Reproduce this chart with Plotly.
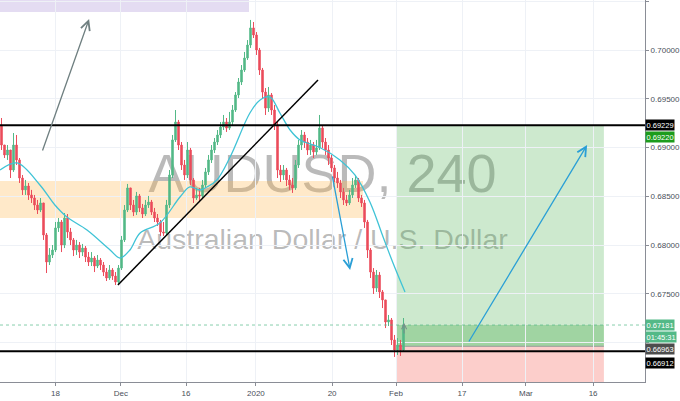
import plotly.graph_objects as go

# ---------------- data (AUDUSD, 240) ----------------
first_open = 0.69231
closes = [0.69026, 0.68924, 0.68975, 0.68770, 0.69026, 0.68873, 0.68688, 0.68566, 0.68606, 0.68514,
          0.68483, 0.68411, 0.68360, 0.68432, 0.68104, 0.67827, 0.67899, 0.67950, 0.68176, 0.68237,
          0.68001, 0.68278, 0.68135, 0.68053, 0.67950, 0.68001, 0.67929, 0.67970, 0.67878, 0.67827,
          0.67868, 0.67786, 0.67847, 0.67796, 0.67724, 0.67663, 0.67745, 0.67683, 0.67622, 0.67765,
          0.68053, 0.68360, 0.68586, 0.68411, 0.68339, 0.68504, 0.68381, 0.68319, 0.68411, 0.68442,
          0.68339, 0.68278, 0.68237, 0.68135, 0.68124, 0.68411, 0.68719, 0.69078, 0.69262, 0.69026,
          0.68821, 0.68719, 0.68975, 0.68668, 0.68483, 0.68514, 0.68504, 0.68616, 0.68750, 0.68873,
          0.68975, 0.69057, 0.69129, 0.69211, 0.69262, 0.69200, 0.69262, 0.69385, 0.69539, 0.69672,
          0.69795, 0.69918, 0.70051, 0.70226, 0.70154, 0.70000, 0.69795, 0.69569, 0.69405, 0.69539,
          0.69385, 0.69231, 0.68770, 0.68719, 0.68770, 0.68668, 0.68616, 0.68586, 0.68821, 0.69026,
          0.69129, 0.69057, 0.68975, 0.69026, 0.68955, 0.68996, 0.69200, 0.69057, 0.68975, 0.68893,
          0.68791, 0.68688, 0.68637, 0.68545, 0.68463, 0.68432, 0.68514, 0.68616, 0.68668, 0.68483,
          0.68432, 0.68237, 0.67950, 0.67724, 0.67560, 0.67693, 0.67520, 0.67438, 0.67212, 0.67233,
          0.67028, 0.66925, 0.66976, 0.66925, 0.67181]
highs = [0.69303, 0.69026, 0.69026, 0.68975, 0.69149, 0.69129, 0.68893, 0.68719, 0.68668, 0.68637,
         0.68566, 0.68514, 0.68463, 0.68483, 0.68432, 0.68124, 0.67970, 0.68001, 0.68237, 0.68278,
         0.68258, 0.68329, 0.68319, 0.68176, 0.68073, 0.68053, 0.68032, 0.68012, 0.67991, 0.67929,
         0.67929, 0.67888, 0.67899, 0.67868, 0.67827, 0.67765, 0.67796, 0.67765, 0.67724, 0.67796,
         0.68094, 0.68411, 0.68627, 0.68545, 0.68463, 0.68545, 0.68524, 0.68422, 0.68463, 0.68504,
         0.68463, 0.68381, 0.68319, 0.68258, 0.68237, 0.68463, 0.68770, 0.69129, 0.69385, 0.69283,
         0.69057, 0.68873, 0.69057, 0.68996, 0.68688, 0.68586, 0.68586, 0.68668, 0.68791, 0.68924,
         0.69026, 0.69098, 0.69180, 0.69262, 0.69334, 0.69303, 0.69365, 0.69436, 0.69569, 0.69713,
         0.69846, 0.69980, 0.70102, 0.70308, 0.70287, 0.70184, 0.70021, 0.69816, 0.69610, 0.69621,
         0.69559, 0.69436, 0.69262, 0.68821, 0.68821, 0.68791, 0.68719, 0.68688, 0.68873, 0.69078,
         0.69180, 0.69160, 0.69098, 0.69078, 0.69057, 0.69078, 0.69334, 0.69231, 0.69098, 0.69026,
         0.68924, 0.68821, 0.68750, 0.68668, 0.68586, 0.68514, 0.68566, 0.68688, 0.68719, 0.68688,
         0.68514, 0.68463, 0.68258, 0.67970, 0.67765, 0.67745, 0.67724, 0.67540, 0.67438, 0.67284,
         0.67253, 0.67079, 0.67048, 0.67028, 0.67253]
lows = [0.68975, 0.68893, 0.68873, 0.68688, 0.68750, 0.68821, 0.68637, 0.68514, 0.68514, 0.68463,
        0.68432, 0.68360, 0.68319, 0.68339, 0.68053, 0.67714, 0.67796, 0.67868, 0.67929, 0.68135,
        0.67929, 0.67970, 0.68073, 0.68001, 0.67888, 0.67899, 0.67868, 0.67888, 0.67827, 0.67786,
        0.67786, 0.67724, 0.67765, 0.67745, 0.67683, 0.67632, 0.67643, 0.67643, 0.67591, 0.67591,
        0.67745, 0.68032, 0.68339, 0.68360, 0.68298, 0.68309, 0.68339, 0.68278, 0.68298, 0.68381,
        0.68309, 0.68237, 0.68196, 0.68094, 0.68094, 0.68104, 0.68381, 0.68688, 0.69057, 0.68975,
        0.68770, 0.68668, 0.68688, 0.68616, 0.68432, 0.68463, 0.68442, 0.68483, 0.68586, 0.68719,
        0.68842, 0.68944, 0.69026, 0.69098, 0.69180, 0.69160, 0.69180, 0.69231, 0.69365, 0.69508,
        0.69641, 0.69775, 0.69898, 0.70021, 0.70123, 0.69949, 0.69744, 0.69508, 0.69334, 0.69365,
        0.69334, 0.69180, 0.68688, 0.68647, 0.68668, 0.68606, 0.68566, 0.68535, 0.68566, 0.68791,
        0.68975, 0.68996, 0.68924, 0.68924, 0.68893, 0.68924, 0.68975, 0.68996, 0.68924, 0.68821,
        0.68750, 0.68647, 0.68586, 0.68483, 0.68411, 0.68401, 0.68411, 0.68483, 0.68586, 0.68442,
        0.68391, 0.68176, 0.67868, 0.67663, 0.67499, 0.67520, 0.67458, 0.67355, 0.67150, 0.67171,
        0.66976, 0.66854, 0.66874, 0.66864, 0.66905]
opens = [first_open] + closes[:-1]
bars = list(range(len(closes)))

ma_bars = [-0.5, 5.2, 12.8, 17.8, 21.8, 28.5, 36.2, 39.5, 42.8, 46.2, 52.8, 59.5, 62.8, 66.2, 68.5,
           71.8, 76.2, 82.8, 86.2, 89.5, 92.8, 96.2, 99.5, 105.8, 112.8, 117.8, 122.8, 127.2, 130.5, 134.5]
ma_vals = [0.68770, 0.68842, 0.68616, 0.68411, 0.68288, 0.68155, 0.67950, 0.67868, 0.67950, 0.68124,
           0.68227, 0.68493, 0.68596, 0.68565, 0.68596, 0.68668, 0.68903, 0.69354, 0.69488, 0.69518,
           0.69354, 0.69180, 0.69078, 0.69006, 0.68873, 0.68719, 0.68442, 0.68083, 0.67817, 0.67520]

tick_bars = [18.0, 39.8, 61.5, 84.8, 110.2, 131.5, 153.5, 174.8, 197.2]
tick_text = ["18", "Dec", "16", "2020", "20", "Feb", "17", "Mar", "16"]
price_ticks = [0.670, 0.675, 0.680, 0.685, 0.690, 0.695, 0.700, 0.705]
# 0.67000 is covered by the price labels on the scale in the reference
price_tick_text = ["", "0.67500", "0.68000", "0.68500", "0.69000", "0.69500", "0.70000", "0.70500"]

resistance = 0.69229
support = 0.66912
take_profit = 0.69220
entry = 0.66963
last_price = 0.67181
stop_loss = 0.66400
countdown = "01:45:31"

purple_zone = [0.70389, 0.70600]
purple_bars = [-0.5, 82.5]
orange_zone = [0.68279, 0.68658]
orange_bars = [-0.5, 120.5]
position_bars = [131.8, 200.8]
trend_bars = [38.8, 105.5]
trend_prices = [0.67591, 0.69693]
gray_arrow = [(13.5, 0.68955), (29.2, 0.70318)]
down_arrow = [(110.2, 0.68719), (116.2, 0.67746)]
up_arrow = [(155.5, 0.66997), (195.2, 0.69026)]
mini_arrow = [(134.2, 0.67079), (134.2, 0.67202)]

x_range = [-0.5, 214.5]
y_range = [0.66597, 0.705125]

UP = "#53b987"
DOWN = "#eb4d5c"
GRID = "#eef1f6"
AXIS = "#8a8d96"
TXT = "#4a4f5a"
FONT = "Liberation Sans, Arial, sans-serif"

highs = [max(h, o, c) for h, o, c in zip(highs, opens, closes)]
lows = [min(l, o, c) for l, o, c in zip(lows, opens, closes)]

fig = go.Figure()

fig.add_trace(go.Candlestick(
    x=bars, open=opens, high=highs, low=lows, close=closes,
    increasing=dict(line=dict(color=UP, width=1), fillcolor=UP),
    decreasing=dict(line=dict(color=DOWN, width=1), fillcolor=DOWN),
    whiskerwidth=0, hoverinfo="skip", showlegend=False))

fig.add_trace(go.Scatter(
    x=ma_bars, y=ma_vals, mode="lines", line=dict(color="#3fc3d6", width=1.3, shape="spline"),
    hoverinfo="skip", showlegend=False))

shapes = []
# zones
shapes.append(dict(type="rect", xref="x", yref="y", x0=purple_bars[0], x1=purple_bars[1],
                   y0=purple_zone[0], y1=purple_zone[1], fillcolor="rgba(149,117,205,0.25)",
                   line=dict(width=0), layer="below"))
shapes.append(dict(type="rect", xref="x", yref="y", x0=orange_bars[0], x1=orange_bars[1],
                   y0=orange_zone[0], y1=orange_zone[1], fillcolor="rgba(255,183,77,0.3)",
                   line=dict(width=0), layer="below"))
# long position tool
shapes.append(dict(type="rect", xref="x", yref="y", x0=position_bars[0], x1=position_bars[1],
                   y0=entry, y1=take_profit, fillcolor="rgba(76,175,80,0.28)",
                   line=dict(width=0), layer="below"))
shapes.append(dict(type="rect", xref="x", yref="y", x0=position_bars[0], x1=position_bars[1],
                   y0=entry, y1=last_price, fillcolor="rgba(76,175,80,0.35)",
                   line=dict(width=0), layer="below"))
shapes.append(dict(type="rect", xref="x", yref="y", x0=position_bars[0], x1=position_bars[1],
                   y0=stop_loss, y1=entry, fillcolor="rgba(244,67,54,0.26)",
                   line=dict(width=0), layer="below"))
shapes.append(dict(type="line", xref="x", yref="y", x0=position_bars[0], x1=position_bars[1],
                   y0=entry, y1=entry, line=dict(color="#9a9a9a", width=1), layer="below"))
# watermark
shapes.append(dict(type="rect", xref="paper", yref="paper", x0=0.1, x1=0.9, y0=0.50, y1=0.62,
                   line=dict(width=0), fillcolor="rgba(0,0,0,0)", layer="below",
                   label=dict(text="AUDUSD, 240", textposition="middle center",
                              font=dict(size=54, color="rgba(90,90,90,0.42)", family=FONT))))
shapes.append(dict(type="rect", xref="paper", yref="paper", x0=0.1, x1=0.9, y0=0.34, y1=0.42,
                   line=dict(width=0), fillcolor="rgba(0,0,0,0)", layer="below",
                   label=dict(text="Australian Dollar / U.S. Dollar", textposition="middle center",
                              font=dict(size=28.5, color="rgba(90,90,90,0.42)", family=FONT))))
# horizontal levels
for lvl in (resistance, support):
    shapes.append(dict(type="line", xref="paper", yref="y", x0=0, x1=1, y0=lvl, y1=lvl,
                       line=dict(color="#000000", width=2), layer="above"))
shapes.append(dict(type="line", xref="paper", yref="y", x0=0, x1=1, y0=last_price, y1=last_price,
                   line=dict(color="rgba(83,185,135,0.7)", width=1, dash="dot"), layer="above"))
# trend line
shapes.append(dict(type="line", xref="x", yref="y", x0=trend_bars[0], x1=trend_bars[1],
                   y0=trend_prices[0], y1=trend_prices[1], line=dict(color="#000000", width=1.5),
                   layer="above"))

annotations = []
for (tail, head, col, w) in ((gray_arrow[0], gray_arrow[1], "#6f7f80", 1.3),
                             (down_arrow[0], down_arrow[1], "#2a9fd6", 1.3),
                             (up_arrow[0], up_arrow[1], "#2a9fd6", 1.3),
                             (mini_arrow[0], mini_arrow[1], "#7b8a8b", 1.0)):
    annotations.append(dict(x=head[0], y=head[1], ax=tail[0], ay=tail[1], xref="x", yref="y",
                            axref="x", ayref="y", text="", showarrow=True, arrowhead=5,
                            arrowsize=1.4 if w > 1 else 1.0, arrowwidth=w, arrowcolor=col,
                            standoff=0, startstandoff=0))

# price labels on the right scale
labels = [(resistance, "0.69229", "#000000", 0),
          (take_profit, "0.69220", "#1c9c1c", -11),
          (last_price, "0.67181", "#53b987", 0),
          (last_price, countdown, "#53b987", -11.5),
          (entry, "0.66963", "#4d4d4d", -3),
          (support, "0.66912", "#000000", -12)]
for (val, txt, bg, shift) in labels:
    annotations.append(dict(x=1, xref="paper", xanchor="left", y=val, yref="y", yshift=shift,
                            text=txt, showarrow=False, bgcolor=bg, borderpad=0.5,
                            font=dict(size=7.5, color="#ffffff", family=FONT)))

fig.update_layout(
    width=680, height=401,
    margin=dict(l=0, r=35, t=0, b=19),
    paper_bgcolor="#ffffff", plot_bgcolor="#ffffff",
    showlegend=False,
    shapes=shapes, annotations=annotations,
    xaxis=dict(range=x_range, tickmode="array", tickvals=tick_bars, ticktext=tick_text,
               showgrid=True, gridcolor=GRID, gridwidth=1, zeroline=False,
               showline=True, linecolor=AXIS, linewidth=1, ticks="outside", ticklen=3,
               tickcolor=AXIS, tickfont=dict(size=8, color=TXT, family=FONT),
               rangeslider=dict(visible=False), fixedrange=True),
    yaxis=dict(range=y_range, side="right", tickmode="array", tickvals=price_ticks,
               ticktext=price_tick_text, showgrid=True, gridcolor=GRID, gridwidth=1,
               zeroline=False, showline=True, linecolor=AXIS, linewidth=1, ticks="outside",
               ticklen=3, tickcolor=AXIS, tickfont=dict(size=8, color=TXT, family=FONT),
               fixedrange=True),
)

fig.write_html("out.html", config={"displayModeBar": False},
               post_script="document.body.style.margin='0';document.body.style.overflow='hidden';")
